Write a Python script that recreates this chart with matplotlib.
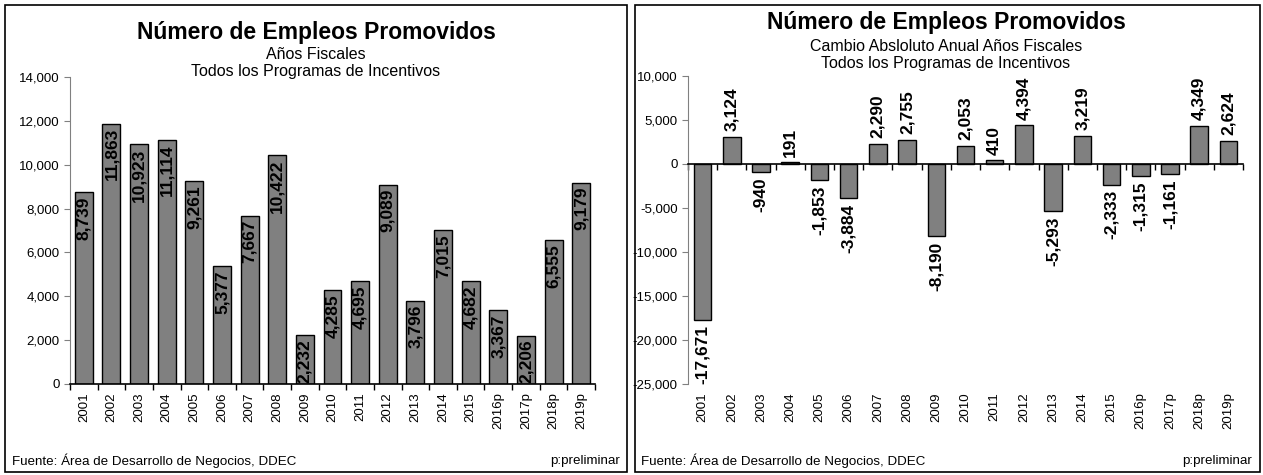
import matplotlib
matplotlib.use("Agg")
import matplotlib.pyplot as plt
from matplotlib.patches import Rectangle
from matplotlib.ticker import FuncFormatter, FixedLocator
import numpy as np

plt.rcParams["font.family"] = ["Liberation Sans", "DejaVu Sans"]

# datos
years = ["2001", "2002", "2003", "2004", "2005", "2006", "2007", "2008", "2009", "2010",
         "2011", "2012", "2013", "2014", "2015", "2016p", "2017p", "2018p", "2019p"]
empleos = [8739, 11863, 10923, 11114, 9261, 5377, 7667, 10422, 2232, 4285,
           4695, 9089, 3796, 7015, 4682, 3367, 2206, 6555, 9179]
cambio = [-17671, 3124, -940, 191, -1853, -3884, 2290, 2755, -8190, 2053,
          410, 4394, -5293, 3219, -2333, -1315, -1161, 4349, 2624]

titulo = "Número de Empleos Promovidos"
sub_izq = "Años Fiscales\nTodos los Programas de Incentivos"
sub_der = "Cambio Absloluto Anual Años Fiscales\nTodos los Programas de Incentivos"
fuente = "Fuente: Área de Desarrollo de Negocios, DDEC"
nota = "p:preliminar"

W, H = 1263, 475
fig = plt.figure(figsize=(W / 100, H / 100), dpi=100)

def fx(px):
    return px / W

def fy(py):
    return 1 - py / H

# marcos de los paneles
for x0, x1 in [(5, 627), (635, 1260)]:
    fig.patches.append(Rectangle((fx(x0), fy(472)), fx(x1 - x0), (472 - 5) / H,
                                 transform=fig.transFigure, fill=False,
                                 edgecolor="black", linewidth=1.2))

fmt = FuncFormatter(lambda v, p: "{:,.0f}".format(v))
x = np.arange(len(years))
gris = "#808080"

def estilo(ax):
    for s in ["top", "right"]:
        ax.spines[s].set_visible(False)
    ax.spines["left"].set_color("#808080")
    ax.spines["bottom"].set_linewidth(1.2)
    ax.yaxis.set_major_formatter(fmt)
    ax.tick_params(axis="y", labelsize=9.5, length=4, color="#808080")
    ax.set_xlim(-0.5, len(years) - 0.5)
    ax.xaxis.set_major_locator(FixedLocator(np.arange(-0.5, len(years), 1.0)))
    ax.tick_params(axis="x", which="major", length=4, width=1, labelbottom=False)

# panel izquierdo
ax1 = fig.add_axes([fx(70), fy(384), fx(595 - 70), (384 - 77) / H])
ax1.bar(x, empleos, width=0.65, color=gris, edgecolor="black", linewidth=1)
ax1.set_ylim(0, 14000)
ax1.set_yticks(range(0, 14001, 2000))
estilo(ax1)
sec1 = ax1.secondary_xaxis("bottom")
sec1.set_xticks(x, years, rotation=90, fontsize=9.5)
sec1.tick_params(length=0, pad=6)
sec1.spines["bottom"].set_visible(False)
for xi, v in zip(x, empleos):
    ax1.annotate("{:,}".format(v), (xi, v), xytext=(0, -3), textcoords="offset points",
                 rotation=90, ha="center", va="top", fontsize=12.5, fontweight="bold")

fig.text(fx(316), fy(32), titulo, ha="center", va="center", fontsize=16.5, fontweight="bold")
fig.text(fx(316), fy(63), sub_izq, ha="center", va="center", fontsize=11.5, linespacing=1.15)
fig.text(fx(12), fy(461), fuente, ha="left", va="center", fontsize=9.6)
fig.text(fx(620), fy(461), nota, ha="right", va="center", fontsize=9.6)

# panel derecho
ax2 = fig.add_axes([fx(688), fy(384), fx(1243 - 688), (384 - 76) / H])
ax2.bar(x, cambio, width=0.6, color=gris, edgecolor="black", linewidth=1)
ax2.set_ylim(-25000, 10000)
ax2.set_yticks(range(-25000, 10001, 5000))
estilo(ax2)
ax2.spines["bottom"].set_position(("data", 0))
sec2 = ax2.secondary_xaxis("bottom")
sec2.set_xticks(x, years, rotation=90, fontsize=9.5)
sec2.tick_params(length=0, pad=6)
sec2.spines["bottom"].set_visible(False)
for xi, v in zip(x, cambio):
    off = 4 if v >= 0 else -4
    ax2.annotate("{:,}".format(v), (xi, v), xytext=(0, off), textcoords="offset points",
                 rotation=90, ha="center", va="bottom" if v >= 0 else "top",
                 fontsize=12.5, fontweight="bold")

fig.text(fx(946), fy(22), titulo, ha="center", va="center", fontsize=16.5, fontweight="bold")
fig.text(fx(946), fy(55), sub_der, ha="center", va="center", fontsize=11.5, linespacing=1.15)
fig.text(fx(641), fy(461), fuente, ha="left", va="center", fontsize=9.6)
fig.text(fx(1252), fy(461), nota, ha="right", va="center", fontsize=9.6)

fig.savefig("out.png", dpi=100)
